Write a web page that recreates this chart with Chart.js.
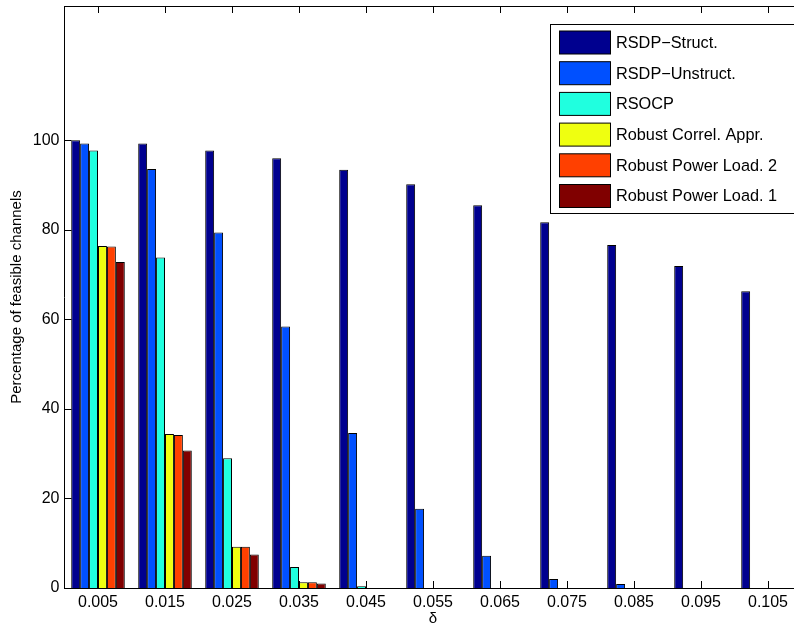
<!DOCTYPE html>
<html>
<head>
<meta charset="utf-8">
<title>Percentage of feasible channels vs δ</title>
<script src="https://cdn.jsdelivr.net/npm/chart.js@4/dist/chart.umd.min.js"></script>
<style>
  html, body { margin: 0; padding: 0; background: #fff; overflow: hidden; }
  #wrap { width: 820px; height: 626px; }
</style>
</head>
<body>
<div id="wrap"><canvas id="c" width="820" height="626"></canvas></div>
<script>
// δ values on the horizontal axis
const deltas = ['0.005', '0.015', '0.025', '0.035', '0.045', '0.055',
                '0.065', '0.075', '0.085', '0.095', '0.105'];

// percentage of feasible channels, one array per method
const rsdpStruct   = [100, 99.3, 97.7, 96.0, 93.4, 90.2, 85.5, 81.7, 76.6, 71.9, 66.3];
const rsdpUnstruct = [99.3, 93.6, 79.4, 58.4, 34.6, 17.7, 7.2, 2.0, 0.9, 0, 0];
const rsocp        = [97.7, 73.8, 29.0, 4.7, 0.4, 0, 0, 0, 0, 0, 0];
const correlAppr   = [76.4, 34.4, 9.2, 1.3, 0, 0, 0, 0, 0, 0, 0];
const powerLoad2   = [76.3, 34.2, 9.2, 1.3, 0, 0, 0, 0, 0, 0, 0];
const powerLoad1   = [72.8, 30.7, 7.5, 1.0, 0, 0, 0, 0, 0, 0, 0];

const seriesNames = ['RSDP\u2212Struct.', 'RSDP\u2212Unstruct.', 'RSOCP',
                     'Robust Correl. Appr.', 'Robust Power Load. 2', 'Robust Power Load. 1'];
const yTickValues = [0, 20, 40, 60, 80, 100];

const seriesData = [rsdpStruct, rsdpUnstruct, rsocp, correlAppr, powerLoad2, powerLoad1];
const seriesColors = ['#00008F', '#0050FF', '#20FFDF', '#EFFF10', '#FF4000', '#800000'];

const FONT = '"Liberation Sans", Arial, Helvetica, sans-serif';

// inward tick marks on all four sides plus the top frame line
const frameTicks = {
  id: 'frameTicks',
  afterDatasetsDraw(chart) {
    const { ctx, chartArea: a, scales } = chart;
    const len = 7;
    ctx.save();
    ctx.strokeStyle = '#000';
    ctx.lineWidth = 1;
    ctx.beginPath();
    ctx.moveTo(a.left, a.top + 0.5);
    ctx.lineTo(a.right, a.top + 0.5);
    ctx.moveTo(a.right - 0.5, a.top);
    ctx.lineTo(a.right - 0.5, a.bottom);
    yTickValues.forEach(v => {
      const y = Math.round(scales.y.getPixelForValue(v)) + 0.5;
      ctx.moveTo(a.left, y); ctx.lineTo(a.left + len, y);
      ctx.moveTo(a.right, y); ctx.lineTo(a.right - len, y);
    });
    deltas.forEach((d, i) => {
      const x = Math.round(scales.x.getPixelForValue(i)) + 0.5;
      ctx.moveTo(x, a.bottom); ctx.lineTo(x, a.bottom - len);
      ctx.moveTo(x, a.top); ctx.lineTo(x, a.top + len);
    });
    ctx.stroke();
    ctx.restore();
  }
};

// boxed legend in the upper right corner
const boxLegend = {
  id: 'boxLegend',
  afterDraw(chart) {
    const { ctx } = chart;
    const left = 550.5, top = 24.5, right = 830, bottom = 213.5;
    const rowH = 30.7;
    ctx.save();
    ctx.fillStyle = '#fff';
    ctx.fillRect(left, top, right - left, bottom - top);
    ctx.strokeStyle = '#000';
    ctx.lineWidth = 1;
    ctx.strokeRect(left, top, right - left, bottom - top);
    ctx.font = '16.3px ' + FONT;
    ctx.textBaseline = 'middle';
    ctx.textAlign = 'left';
    chart.data.datasets.forEach((ds, i) => {
      const cy = 42.5 + i * rowH;
      ctx.fillStyle = ds.backgroundColor;
      ctx.fillRect(559.5, cy - 11.5, 51, 23);
      ctx.strokeStyle = '#000';
      ctx.strokeRect(559.5, cy - 11.5, 51, 23);
      ctx.fillStyle = '#000';
      ctx.fillText(ds.label, 616, cy + 1);
    });
    ctx.restore();
  }
};

new Chart(document.getElementById('c'), {
  type: 'bar',
  data: {
    labels: deltas,
    datasets: seriesNames.map((name, i) => ({
      label: name,
      data: seriesData[i],
      backgroundColor: seriesColors[i],
      borderColor: '#000',
      borderWidth: 1,
      categoryPercentage: 0.8,
      barPercentage: 1.0
    }))
  },
  options: {
    responsive: false,
    animation: false,
    layout: { padding: { left: 0, right: 18.5, top: 6, bottom: 0 } },
    plugins: {
      legend: { display: false },
      tooltip: { enabled: false }
    },
    scales: {
      x: {
        offset: true,
        grid: { display: false, drawTicks: false },
        border: { display: true, color: '#000', width: 1 },
        ticks: { color: '#000', font: { family: FONT, size: 16 }, padding: 5, maxRotation: 0, autoSkip: false },
        title: { display: true, text: 'δ', color: '#000',
                 font: { family: FONT, size: 15, lineHeight: 1 }, padding: { top: 0, bottom: 0 } },
        afterFit(scale) { scale.height = 38; scale.paddingLeft = 0; scale.paddingRight = 0; }
      },
      y: {
        min: 0,
        max: 130,
        grid: { display: false, drawTicks: false },
        border: { display: true, color: '#000', width: 1 },
        ticks: { color: '#000', font: { family: FONT, size: 16 }, padding: 5 },
        afterBuildTicks(scale) { scale.ticks = yTickValues.map(v => ({ value: v })); },
        title: { display: true, text: 'Percentage of feasible channels', color: '#000',
                 font: { family: FONT, size: 15 }, padding: { top: 7.5, bottom: 0 } },
        afterFit(scale) { scale.width = 64.5; scale.paddingTop = 0; scale.paddingBottom = 0; }
      }
    }
  },
  plugins: [frameTicks, boxLegend]
});
</script>
</body>
</html>
